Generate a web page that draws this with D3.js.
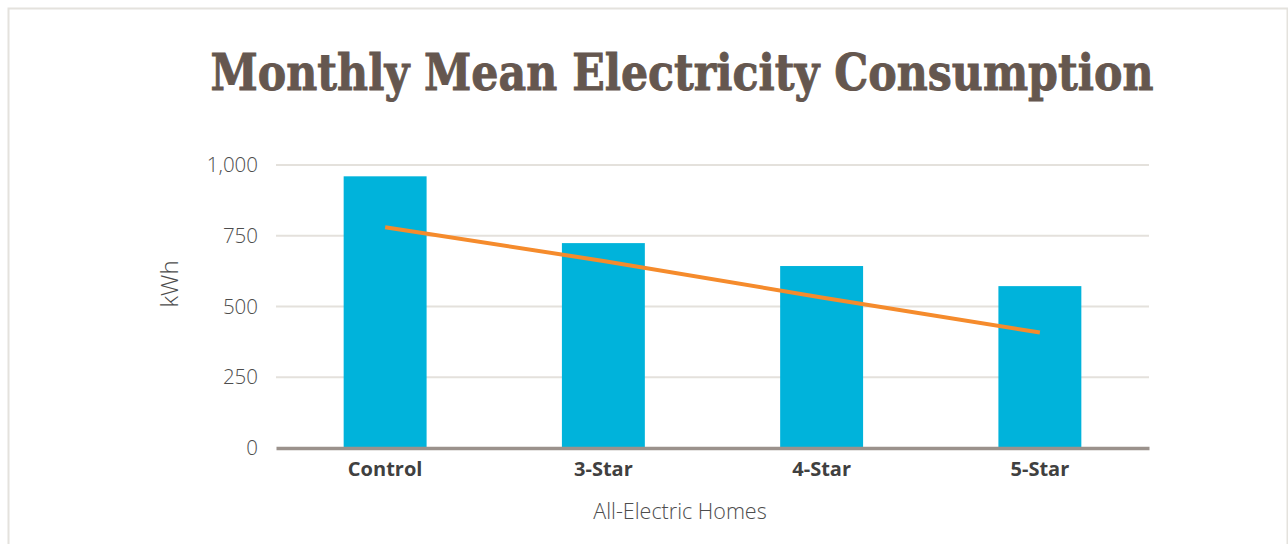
<!DOCTYPE html>
<html>
<head>
<meta charset="utf-8">
<script src="https://cdn.jsdelivr.net/npm/d3@7/dist/d3.min.js"></script>
<style>
  html, body { margin: 0; padding: 0; background: #fff; }
  svg { display: block; }
</style>
</head>
<body>
<svg id="chart" width="1288" height="544"></svg>
<script>
// Monthly mean electricity use, all-electric homes
const categories = ["Control", "3-Star", "4-Star", "5-Star"];
const meanKWh = [960, 724, 643, 572];
const trendKWh = [780, 661, 532, 408];
const yTicks = [0, 250, 500, 750, 1000];

const svg = d3.select("#chart");
const W = 1288, H = 544;

// card border
svg.append("rect")
  .attr("x", 8.5).attr("y", 8.5)
  .attr("width", W - 9).attr("height", H)
  .attr("fill", "#fff")
  .attr("stroke", "#e4e2dd").attr("stroke-width", 2);

const plot = { left: 276, right: 1149, top: 165, bottom: 448 };

const x = d3.scaleBand()
  .domain(categories)
  .range([plot.left, plot.right])
  .paddingInner(0.62)
  .paddingOuter(0.31);

const y = d3.scaleLinear()
  .domain([0, 1000])
  .range([plot.bottom, plot.top]);

// gridlines
svg.append("g")
  .selectAll("line")
  .data(yTicks.filter(d => d > 0))
  .join("line")
  .attr("x1", plot.left).attr("x2", plot.right)
  .attr("y1", d => y(d)).attr("y2", d => y(d))
  .attr("stroke", "#e4e1dc").attr("stroke-width", 2);

// y axis labels
const yAxis = d3.axisLeft(y).tickValues(yTicks).tickFormat(d3.format(",")).tickSize(0).tickPadding(18);
const gy = svg.append("g").attr("transform", `translate(${plot.left},0)`).call(yAxis);
gy.select(".domain").remove();
gy.selectAll("text")
  .attr("font-family", "'Open Sans', sans-serif")
  .attr("font-weight", 300)
  .attr("font-size", 20.5)
  .attr("fill", "#4d4d4d");

// bars
svg.append("g")
  .selectAll("rect")
  .data(meanKWh)
  .join("rect")
  .attr("x", (d, i) => x(categories[i]))
  .attr("width", x.bandwidth())
  .attr("y", d => y(d))
  .attr("height", d => y(0) - y(d))
  .attr("fill", "#00b3db");

// baseline axis
const xAxis = d3.axisBottom(x).tickSize(0).tickPadding(14);
const gx = svg.append("g").attr("transform", `translate(0,${y(0)})`).call(xAxis);
gx.select(".domain")
  .attr("stroke", "#9b928c").attr("stroke-width", 3.5);
gx.selectAll("text")
  .attr("font-family", "'Open Sans', sans-serif")
  .attr("font-weight", 700)
  .attr("font-size", 20)
  .attr("fill", "#404040");

// trend line
const line = d3.line()
  .x((d, i) => x(categories[i]) + x.bandwidth() / 2)
  .y(d => y(d));
svg.append("path")
  .datum(trendKWh)
  .attr("d", line)
  .attr("fill", "none")
  .attr("stroke", "#f58b2c")
  .attr("stroke-width", 4);

// axis titles
svg.append("text")
  .attr("transform", `translate(178,284) rotate(-90)`)
  .attr("text-anchor", "middle")
  .attr("font-family", "'Open Sans', sans-serif")
  .attr("font-weight", 300)
  .attr("font-size", 24)
  .attr("fill", "#4d4d4d")
  .text("kWh");

svg.append("text")
  .attr("x", 680).attr("y", 519)
  .attr("text-anchor", "middle")
  .attr("font-family", "'Open Sans', sans-serif")
  .attr("font-weight", 300)
  .attr("font-size", 21.5)
  .attr("fill", "#4d4d4d")
  .text("All-Electric Homes");

// title, stretched slightly upward from its baseline
const title = svg.append("text")
  .attr("x", 682).attr("y", 0)
  .attr("text-anchor", "middle")
  .attr("transform", "translate(0,90) scale(1,1.18)")
  .attr("font-family", "'DejaVu Serif', serif")
  .attr("font-weight", 700)
  .attr("font-size", 50)
  .attr("fill", "#65574f")
  .attr("stroke", "#65574f")
  .attr("stroke-width", 0.8)
  .text("Monthly Mean Electricity Consumption");
const tw = title.node().getComputedTextLength();
title.attr("font-size", 50 * 943 / tw);
</script>
</body>
</html>
